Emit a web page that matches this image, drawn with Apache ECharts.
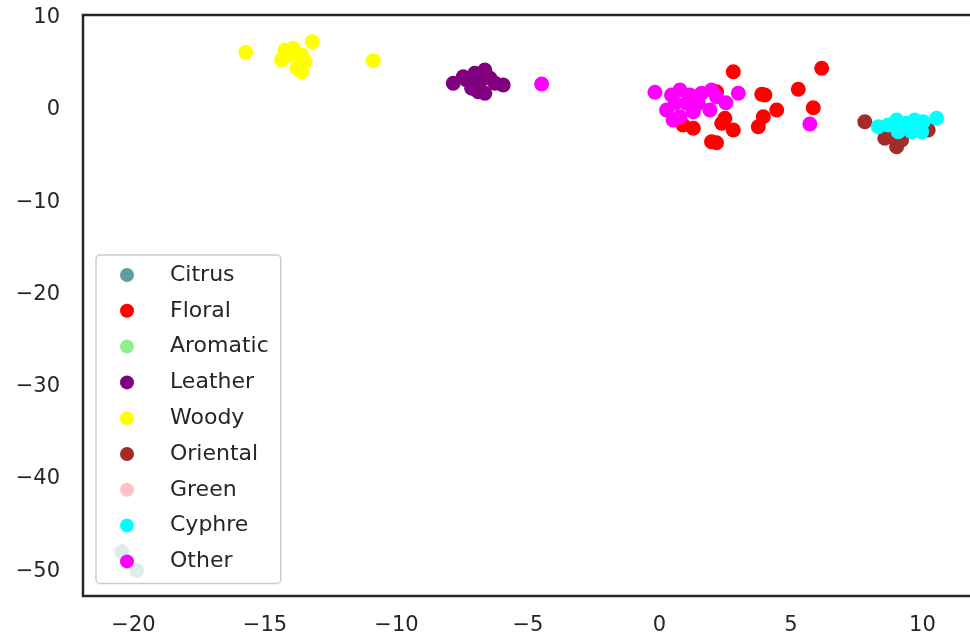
<!DOCTYPE html>
<html>
<head>
<meta charset="utf-8">
<script src="https://cdn.jsdelivr.net/npm/echarts@6/dist/echarts.min.js"></script>
<style>
html,body{margin:0;padding:0;overflow:hidden;background:#fff;width:970px;height:640px;}
#chart{width:1000px;height:640px;}
</style>
</head>
<body>
<div id="chart"></div>
<script>
// Legend/category order
const categories = ['Citrus','Floral','Aromatic','Leather','Woody','Oriental','Green','Cyphre','Other'];
const colors = ['#5f9ea0','#ff0000','#90ee90','#800080','#ffff00','#a52a2a','#ffc0cb','#00ffff','#ff00ff'];

// Series values [x, y]
const citrus = [[-20.45,-47.9],[-19.88,-49.9]];
const floral = [[2.81,4.15],[2.17,1.98],[0.90,-1.63],[1.29,-1.98],[1.98,-3.44],[2.17,-3.55],[2.37,-1.44],[2.49,-0.90],[2.81,-2.17],[3.89,1.70],[4.01,1.63],[4.46,0],[3.95,-0.73],[3.76,-1.81],[5.28,2.25],[6.17,4.52],[5.85,0.25]];
const aromatic = [];
const leather = [[-7.84,2.90],[-7.46,3.61],[-7.02,3.98],[-6.64,4.34],[-7.14,2.35],[-6.64,1.81],[-6.25,2.90],[-5.94,2.71],[-6.83,3.07],[-7.33,3.25],[-6.44,3.44],[-6.89,1.98]];
const woody = [[-15.73,6.26],[-13.20,7.41],[-10.88,5.35],[-14.24,6.51],[-13.92,6.69],[-14.37,5.42],[-13.60,5.97],[-13.48,5.24],[-13.60,4.15],[-13.79,4.52],[-14.05,5.97]];
const oriental = [[7.81,-1.27],[8.57,-3.07],[9.02,-3.98],[9.21,-3.25],[10.22,-2.17],[8.83,-2.90]];
const green = [];
const cyphre = [[8.32,-1.81],[8.70,-1.63],[9.02,-1.08],[9.40,-1.44],[9.71,-1.08],[10.03,-1.27],[9.08,-2.35],[9.59,-2.35],[9.97,-2.35],[10.54,-0.90]];
const other = [[-4.48,2.82],[-0.17,1.92],[0.78,2.17],[0.46,1.63],[1.16,1.63],[1.60,1.81],[1.98,2.17],[0.27,0],[0.59,0.73],[1.03,0.73],[1.48,0.73],[1.92,0],[0.52,-1.08],[0.78,-0.73],[1.29,-0.18],[3.00,1.81],[2.53,0.79],[2.17,1.44],[5.72,-1.52]];

// Tick labels
const xTicks = [-20,-15,-10,-5,0,5,10];
const yTicks = [10,0,-10,-20,-30,-40,-50];

const seriesData = [citrus, floral, aromatic, leather, woody, oriental, green, cyphre, other];
const textColor = '#262626';
const fmt = (ticks) => (v) => {
  const hit = ticks.find(t => Math.abs(t - v) < 1e-6);
  return hit === undefined ? '' : String(hit).replace('-', '\u2212');
};

const chart = echarts.init(document.getElementById('chart'), null, {renderer: 'canvas'});
chart.setOption({
  animation: false,
  backgroundColor: '#ffffff',
  grid: {
    left: 83, top: 15, width: 892, height: 581,
    show: true, borderColor: '#262626', borderWidth: 2.5, backgroundColor: 'transparent'
  },
  xAxis: {
    type: 'value', min: -21.92, max: 12, splitNumber: 7,
    axisLine: {show: false}, axisTick: {show: false}, splitLine: {show: false},
    axisLabel: {color: textColor, fontFamily: 'DejaVu Sans', fontSize: 21, margin: 19,
      showMinLabel: false, showMaxLabel: false, formatter: fmt(xTicks)}
  },
  yAxis: {
    type: 'value', min: -52.7, max: 10.3, splitNumber: 6,
    axisLine: {show: false}, axisTick: {show: false}, splitLine: {show: false},
    axisLabel: {color: textColor, fontFamily: 'DejaVu Sans', fontSize: 21, margin: 23,
      showMinLabel: false, showMaxLabel: false, formatter: fmt(yTicks)}
  },
  legend: {
    orient: 'vertical', left: 96, top: 255,
    padding: [8, 12, 10, 24], itemWidth: 14, itemHeight: 14, itemGap: 11.8,
    backgroundColor: 'rgba(255,255,255,0.8)', borderColor: '#cccccc', borderWidth: 1.5, borderRadius: 4,
    icon: 'circle',
    textStyle: {color: textColor, fontFamily: 'DejaVu Sans', fontSize: 22, lineHeight: 24, padding: [0, 0, 0, 31]},
    data: categories
  },
  series: categories.map((name, i) => ({
    name: name, type: 'scatter', data: seriesData[i], symbolSize: 15,
    itemStyle: {color: colors[i], opacity: 1}, emphasis: {disabled: true}
  }))
});
</script>
</body>
</html>
